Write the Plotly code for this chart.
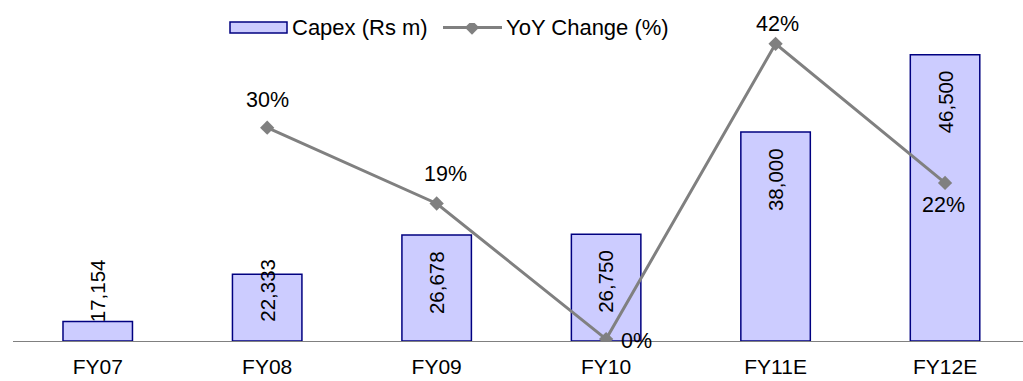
import plotly.graph_objects as go

categories = ["FY07", "FY08", "FY09", "FY10", "FY11E", "FY12E"]
capex = [17154, 22333, 26678, 26750, 38000, 46500]
yoy = [None, 30.19, 19.46, 0.27, 42.06, 22.37]

AXIS_MIN = 15000
BAR_FILL = "#CCCCFF"
BAR_EDGE = "#000080"
LINE_GREY = "#808080"
FONT = "Liberation Sans, Arial, sans-serif"
FS_NUM = 20.5
FS_PCT = 21.5
FS_TXT = 22

# plot-area geometry in pixels, used for the hand-drawn legend
W, H = 1023, 381
ML, MR, MT, MB = 13, 0, 23, 40
PW, PH = W - ML - MR, H - MT - MB


def px(x):
    return (x - ML) / PW


def py(y):
    return (H - MB - y) / PH


fig = go.Figure()

fig.add_trace(go.Bar(
    x=categories, y=[v - AXIS_MIN for v in capex], base=AXIS_MIN,
    width=0.41,
    marker=dict(color=BAR_FILL, line=dict(color=BAR_EDGE, width=1.5)),
    name="Capex (Rs m)", showlegend=False, hoverinfo="skip",
))

fig.add_trace(go.Scatter(
    x=categories, y=yoy, yaxis="y2", mode="lines+markers",
    line=dict(color=LINE_GREY, width=3),
    marker=dict(symbol="diamond", size=11, color=LINE_GREY),
    name="YoY Change (%)", showlegend=False, connectgaps=False,
    hoverinfo="skip",
))

# value labels on the bars, rotated; the two short bars share a low position
for cat, v in zip(categories, capex):
    if cat in ("FY07", "FY08"):
        pos = dict(y=AXIS_MIN, yanchor="bottom", yshift=17)
    else:
        pos = dict(y=v, yanchor="top", yshift=-14)
    fig.add_annotation(
        x=cat, text=f"{v:,}", textangle=-90, showarrow=False,
        xanchor="center", font=dict(family=FONT, size=FS_NUM, color="black"),
        **pos,
    )

# percentage labels around the line markers
pct_place = {
    "FY08": dict(xshift=0, yshift=28),
    "FY09": dict(xshift=9, yshift=29),
    "FY10": dict(xshift=30, yshift=-2),
    "FY11E": dict(xshift=2, yshift=20),
    "FY12E": dict(xshift=-2, yshift=-22),
}
for cat, p in zip(categories, yoy):
    if p is None:
        continue
    fig.add_annotation(
        x=cat, y=p, yref="y2", text=f"{p:.0f}%", showarrow=False,
        xanchor="center", yanchor="middle",
        font=dict(family=FONT, size=FS_PCT, color="black"),
        **pct_place[cat],
    )

# legend drawn as shapes + text
LEG_Y = 27.5
fig.add_shape(type="rect", xref="paper", yref="paper",
              x0=px(230), x1=px(287), y0=py(33), y1=py(22),
              fillcolor=BAR_FILL, line=dict(color=BAR_EDGE, width=1.5))
fig.add_annotation(xref="paper", yref="paper", x=px(290), y=py(LEG_Y),
                   text="Capex (Rs m)", showarrow=False, xanchor="left",
                   yanchor="middle",
                   font=dict(family=FONT, size=FS_TXT, color="black"))
fig.add_shape(type="line", xref="paper", yref="paper",
              x0=px(443), x1=px(502), y0=py(LEG_Y), y1=py(LEG_Y),
              line=dict(color=LINE_GREY, width=3))
fig.add_annotation(xref="paper", yref="paper", x=px(504), y=py(LEG_Y),
                   text="YoY Change (%)", showarrow=False, xanchor="left",
                   yanchor="middle",
                   font=dict(family=FONT, size=FS_TXT, color="black"))
fig.add_trace(go.Scatter(
    x=[px(472)], y=[py(LEG_Y)], xaxis="x2", yaxis="y3", mode="markers",
    marker=dict(symbol="diamond", size=11, color=LINE_GREY),
    showlegend=False, hoverinfo="skip",
))

fig.update_layout(
    width=W, height=H,
    margin=dict(l=ML, r=MR, t=MT, b=MB, autoexpand=False),
    paper_bgcolor="white", plot_bgcolor="white",
    showlegend=False,
    font=dict(family=FONT, size=FS_TXT, color="black"),
    xaxis=dict(range=[-0.5, 5.46], showline=True, linecolor=LINE_GREY,
               linewidth=1, ticks="", showgrid=False, zeroline=False,
               automargin=False, ticklabelstandoff=7,
               tickfont=dict(family=FONT, size=21, color="black")),
    yaxis=dict(range=[AXIS_MIN, 50000], visible=False, showgrid=False,
               zeroline=False, automargin=False),
    yaxis2=dict(range=[0, 45], overlaying="y", side="right", visible=False,
                showgrid=False, zeroline=False, automargin=False),
    xaxis2=dict(range=[0, 1], overlaying="x", visible=False),
    yaxis3=dict(range=[0, 1], overlaying="y", visible=False),
)

fig.write_html("out.html")
